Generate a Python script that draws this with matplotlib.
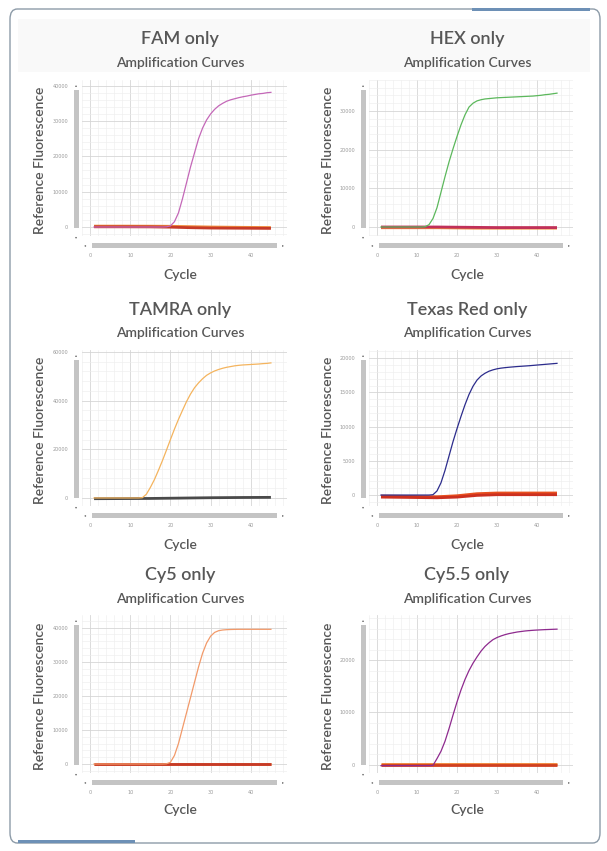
import matplotlib.pyplot as plt
from matplotlib.patches import FancyBboxPatch, Rectangle
from matplotlib.ticker import MultipleLocator

W, H = 607, 851

# ---- data (cycles 1..45) ----
cycles = list(range(1, 46))

fam_curve = [0, 0, 0, 0, 0, 0, 0, 0, 0, 0, 0, 0, 0, 0, 0, 0, 0, 0, 50,
             300, 1500, 4000, 8000, 12500, 17000, 21000, 25000, 28000, 30300, 32000,
             33300, 34300, 35000, 35600, 36000, 36300, 36600, 36850, 37050, 37300,
             37500, 37700, 37800, 38000, 38100]
hex_curve = [0, 0, 0, 0, 0, 0, 0, 0, 0, 0, 0, 50, 600, 2200, 5000,
             9000, 13000, 16800, 20200, 23400, 26400, 29000, 31000, 32000, 32600,
             32900, 33100, 33200, 33300, 33400, 33450, 33500, 33550, 33600, 33650,
             33700, 33750, 33800, 33850, 33950, 34050, 34200, 34300, 34450, 34600]
tamra_curve = [0, 0, 0, 0, 0, 0, 0, 0, 0, 0, 0, 0, 100, 1500, 4300,
               7500, 11300, 15300, 19600, 24000, 28300, 32300, 36000, 39600, 42700,
               45300, 47300, 49000, 50400, 51400, 52200, 52800, 53300, 53700, 54000,
               54300, 54500, 54650, 54750, 54850, 54950, 55050, 55200, 55300, 55500]
texas_curve = [0, 0, 0, 0, 0, 0, 0, 0, 0, 0, 0, 0, 0, 50, 600,
               1800, 3600, 5700, 7800, 9700, 11500, 13200, 14700, 15900, 16800,
               17400, 17800, 18100, 18300, 18450, 18550, 18620, 18680, 18730, 18780,
               18820, 18860, 18900, 18950, 19000, 19050, 19100, 19150, 19200, 19250]
cy5_curve = [0, 0, 0, 0, 0, 0, 0, 0, 0, 0, 0, 0, 0, 0, 0, 0, 0, 0, 50,
             500, 2500, 6000, 10500, 15000, 19500, 24000, 28500, 32500, 35500, 37500,
             38600, 39100, 39300, 39400, 39450, 39480, 39500, 39500, 39500, 39500,
             39500, 39500, 39500, 39500, 39500]
cy55_curve = [-150, -150, -150, -150, -150, -150, -150, -150, -150, -150, -150, -150,
              -150, -100, 1200, 2600, 4500, 6900, 9500, 12000, 14300, 16300, 18000,
              19400, 20600, 21700, 22600, 23300, 23900, 24300, 24600, 24850, 25050,
              25200, 25350, 25450, 25550, 25620, 25680, 25730, 25770, 25810, 25840,
              25870, 25900]

# baselines of the other channels, read at a few cycles
base_cycles = [1, 8, 15, 20, 25, 30, 38, 45]
fam_base_orange = [250, 250, 230, 200, 100, 0, -100, -150]
fam_base_red = [50, 50, 30, -50, -200, -300, -350, -400]
hex_base_orange = [-200, -200, -200, -250, -300, -300, -300, -300]
hex_base_red = [0, 0, 0, -50, -100, -150, -150, -150]
tamra_base_gray = [-300, -250, -200, -100, 0, 100, 200, 250]
texas_base_orange = [-150, -200, -250, -100, 200, 300, 300, 300]
texas_base_red = [-300, -350, -400, -300, -50, 50, 50, 50]
cy5_base_orange = [100, 100, 100, 100, 100, 100, 100, 100]
cy5_base_red = [0, 0, 0, 0, 0, 0, 0, 0]
cy55_base_orange = [150, 150, 150, 150, 150, 150, 150, 150]
cy55_base_red = [50, 50, 50, 50, 50, 50, 50, 50]

xticks = [0, 10, 20, 30, 40]
panels = [
    dict(title="FAM only", curve=fam_curve, color="#c468b8",
         bases=[(fam_base_orange, "#ef8c3c"), (fam_base_red, "#c63a28")],
         yticks=[0, 10000, 20000, 30000, 40000], ylim=(-2550, 41600), col=0, row=0),
    dict(title="HEX only", curve=hex_curve, color="#5cb85c",
         bases=[(hex_base_orange, "#ef8c3c"), (hex_base_red, "#c0305a")],
         yticks=[0, 10000, 20000, 30000], ylim=(-2330, 38000), col=1, row=0),
    dict(title="TAMRA only", curve=tamra_curve, color="#f4b45e",
         bases=[(tamra_base_gray, "#4a4a4a")],
         yticks=[0, 20000, 40000, 60000], ylim=(-3300, 60800), col=0, row=1),
    dict(title="Texas Red only", curve=texas_curve, color="#2c2c8c",
         bases=[(texas_base_orange, "#e8501e"), (texas_base_red, "#cc3020")],
         yticks=[0, 5000, 10000, 15000, 20000], ylim=(-1600, 21200), col=1, row=1),
    dict(title="Cy5 only", curve=cy5_curve, color="#f29a6a",
         bases=[(cy5_base_orange, "#ef8c3c"), (cy5_base_red, "#c63a28")],
         yticks=[0, 10000, 20000, 30000, 40000], ylim=(-2640, 43700), col=0, row=2),
    dict(title="Cy5.5 only", curve=cy55_curve, color="#8e2a8e",
         bases=[(cy55_base_orange, "#f08030"), (cy55_base_red, "#d04020")],
         yticks=[0, 10000, 20000], ylim=(-1550, 28600), col=1, row=2),
]

# layout in pixels
col_left = [82, 369]
col_right = [287, 573]
row_top = [80, 350, 615]
row_bottom = [236, 506, 773]
title_y = [39, 310, 575]
sub_y = [63, 333, 599]
cycle_y = [275, 545, 810]
col_center = [180, 467]
ylab_x = [40, 328]

TXT = "#575757"


def fx(x):
    return x / W


def fy(y):
    return 1 - y / H


def box(fig, x0, y0, x1, y1, color, z=1):
    fig.add_artist(Rectangle((fx(x0), fy(y1)), (x1 - x0) / W, (y1 - y0) / H,
                             transform=fig.transFigure, facecolor=color,
                             edgecolor="none", zorder=z))


fig = plt.figure(figsize=(W / 100, H / 100), dpi=100)
fig.patch.set_facecolor("white")

# card frame
fig.add_artist(FancyBboxPatch((fx(10), fy(843)), 590 / W, 834 / H,
                              boxstyle="round,pad=0,rounding_size=0.012",
                              transform=fig.transFigure, facecolor="white",
                              edgecolor="#8d9ba8", linewidth=1.0, zorder=0))
box(fig, 18, 19, 590, 72, "#f9f9f9", z=0.5)
box(fig, 472, 8, 590, 11, "#6d90b6", z=2)
box(fig, 18, 840, 135, 843, "#6d90b6", z=2)

for p in panels:
    c, r = p["col"], p["row"]
    l, rt, t, b = col_left[c], col_right[c], row_top[r], row_bottom[r]
    ax = fig.add_axes([fx(l), fy(b), (rt - l) / W, (b - t) / H])
    ax.set_facecolor("white")
    ax.set_xlim(-2, 49)
    ax.set_ylim(*p["ylim"])
    ax.set_xticks(xticks)
    ax.set_yticks(p["yticks"])
    step = p["yticks"][1] - p["yticks"][0]
    ax.xaxis.set_minor_locator(MultipleLocator(2))
    ax.yaxis.set_minor_locator(MultipleLocator(step / 5))
    ax.grid(True, which="major", color="#d6d6d6", linewidth=0.6)
    ax.grid(True, which="minor", color="#ededed", linewidth=0.4)
    ax.set_axisbelow(True)
    for s in ax.spines.values():
        s.set_visible(False)
    ax.tick_params(which="both", length=0, labelsize=3.5, colors="#9a9a9a")
    ax.tick_params(axis="x", pad=12)
    ax.tick_params(axis="y", pad=10)

    for vals, col in p["bases"]:
        ax.plot(base_cycles, vals, color=col, linewidth=2.0, solid_capstyle="butt", zorder=3)
    ax.plot(cycles, p["curve"], color=p["color"], linewidth=0.9, zorder=4)

    # fake scrollbars
    box(fig, l - 8, t + 10, l - 3, b - 8, "#c4c4c4", z=3)
    box(fig, l + 10, b + 7, rt - 10, b + 12, "#c4c4c4", z=3)
    fig.text(fx(l - 5.5), fy(t + 5), "\u25b4", fontsize=3, color="#666", ha="center", va="center")
    fig.text(fx(l - 5.5), fy(b + 1), "\u25be", fontsize=3, color="#666", ha="center", va="center")
    fig.text(fx(l + 3), fy(b + 9.5), "\u25c2", fontsize=3, color="#666", ha="center", va="center")
    fig.text(fx(rt - 4), fy(b + 9.5), "\u25b8", fontsize=3, color="#666", ha="center", va="center")

    fig.text(fx(col_center[c]), fy(title_y[r]), p["title"], fontsize=13, family="Lato",
             fontweight="semibold", color=TXT, ha="center", va="center")
    fig.text(fx(col_center[c]), fy(sub_y[r]), "Amplification Curves", fontsize=10,
             family="Lato", fontweight="semibold", color=TXT, ha="center", va="center")
    fig.text(fx(col_center[c]), fy(cycle_y[r]), "Cycle", fontsize=10, family="Lato",
             fontweight="semibold", color=TXT, ha="center", va="center")
    fig.text(fx(ylab_x[c]), fy((t + b) / 2 + 2), "Reference Fluorescence", fontsize=10,
             family="Lato", fontweight="semibold", color=TXT, ha="center", va="center",
             rotation=90)

fig.savefig("out.png", dpi=100)
